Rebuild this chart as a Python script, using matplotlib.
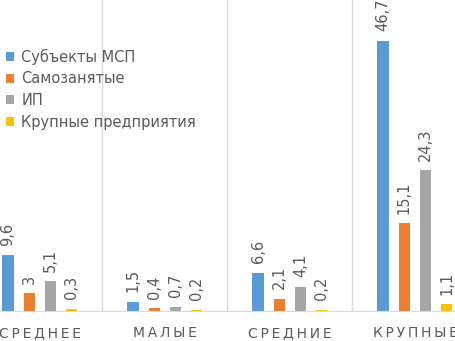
import matplotlib.pyplot as plt
import numpy as np

# -------------------- DATA --------------------
categories = ["СРЕДНЕЕ", "МАЛЫЕ", "СРЕДНИЕ", "КРУПНЫЕ"]
series_names = ["Субъекты МСП", "Самозанятые", "ИП", "Крупные предприятия"]
msp = [9.6, 1.5, 6.6, 46.7]
self_employed = [3, 0.4, 2.1, 15.1]
ip = [5.1, 0.7, 4.1, 24.3]
large = [0.3, 0.2, 0.2, 1.1]

colors = ["#5B9BD5", "#ED7D31", "#A5A5A5", "#FFC000"]
text_color = "#595959"
line_color = "#D9D9D9"

# -------------------- PLOT --------------------
fig = plt.figure(figsize=(4.56, 3.41), dpi=100)
ax = fig.add_axes([0, 0.0889, 1, 0.9111])

x = np.arange(len(categories))
pitch = 0.17
width = 0.09
all_series = [msp, self_employed, ip, large]

for i, (vals, name) in enumerate(zip(all_series, series_names)):
    pos = x + (i - 1.5) * pitch
    ax.bar(pos, vals, width, color=colors[i], label=name, zorder=2)
    for xb, v in zip(pos, vals):
        lbl = f"{v:g}".replace(".", ",")
        ax.annotate(lbl, (xb, v), xytext=(0, 7), textcoords="offset points",
                    rotation=90, ha="center", va="bottom",
                    fontsize=10.5, color=text_color)

# group separators
for b in [0.5, 1.5, 2.5]:
    ax.axvline(b, color=line_color, lw=1, zorder=1)

ax.set_xlim(-0.3187, 3.328)
ax.set_ylim(0, 53.8)
ax.set_yticks([])
ax.set_xticks(x)
ax.set_xticklabels(["\u2009".join(c) for c in categories], fontsize=10, color=text_color)
ax.tick_params(axis="x", length=0, pad=11)
for s in ["top", "left", "right"]:
    ax.spines[s].set_visible(False)
ax.spines["bottom"].set_color(line_color)

ax.legend(loc="upper left", bbox_to_anchor=(0.0, 0.862), frameon=False,
          fontsize=10.5, labelcolor=text_color, handlelength=0.55, handleheight=0.55,
          handletextpad=0.5, labelspacing=0.45, borderaxespad=0)

fig.savefig("out.png", dpi=100)
